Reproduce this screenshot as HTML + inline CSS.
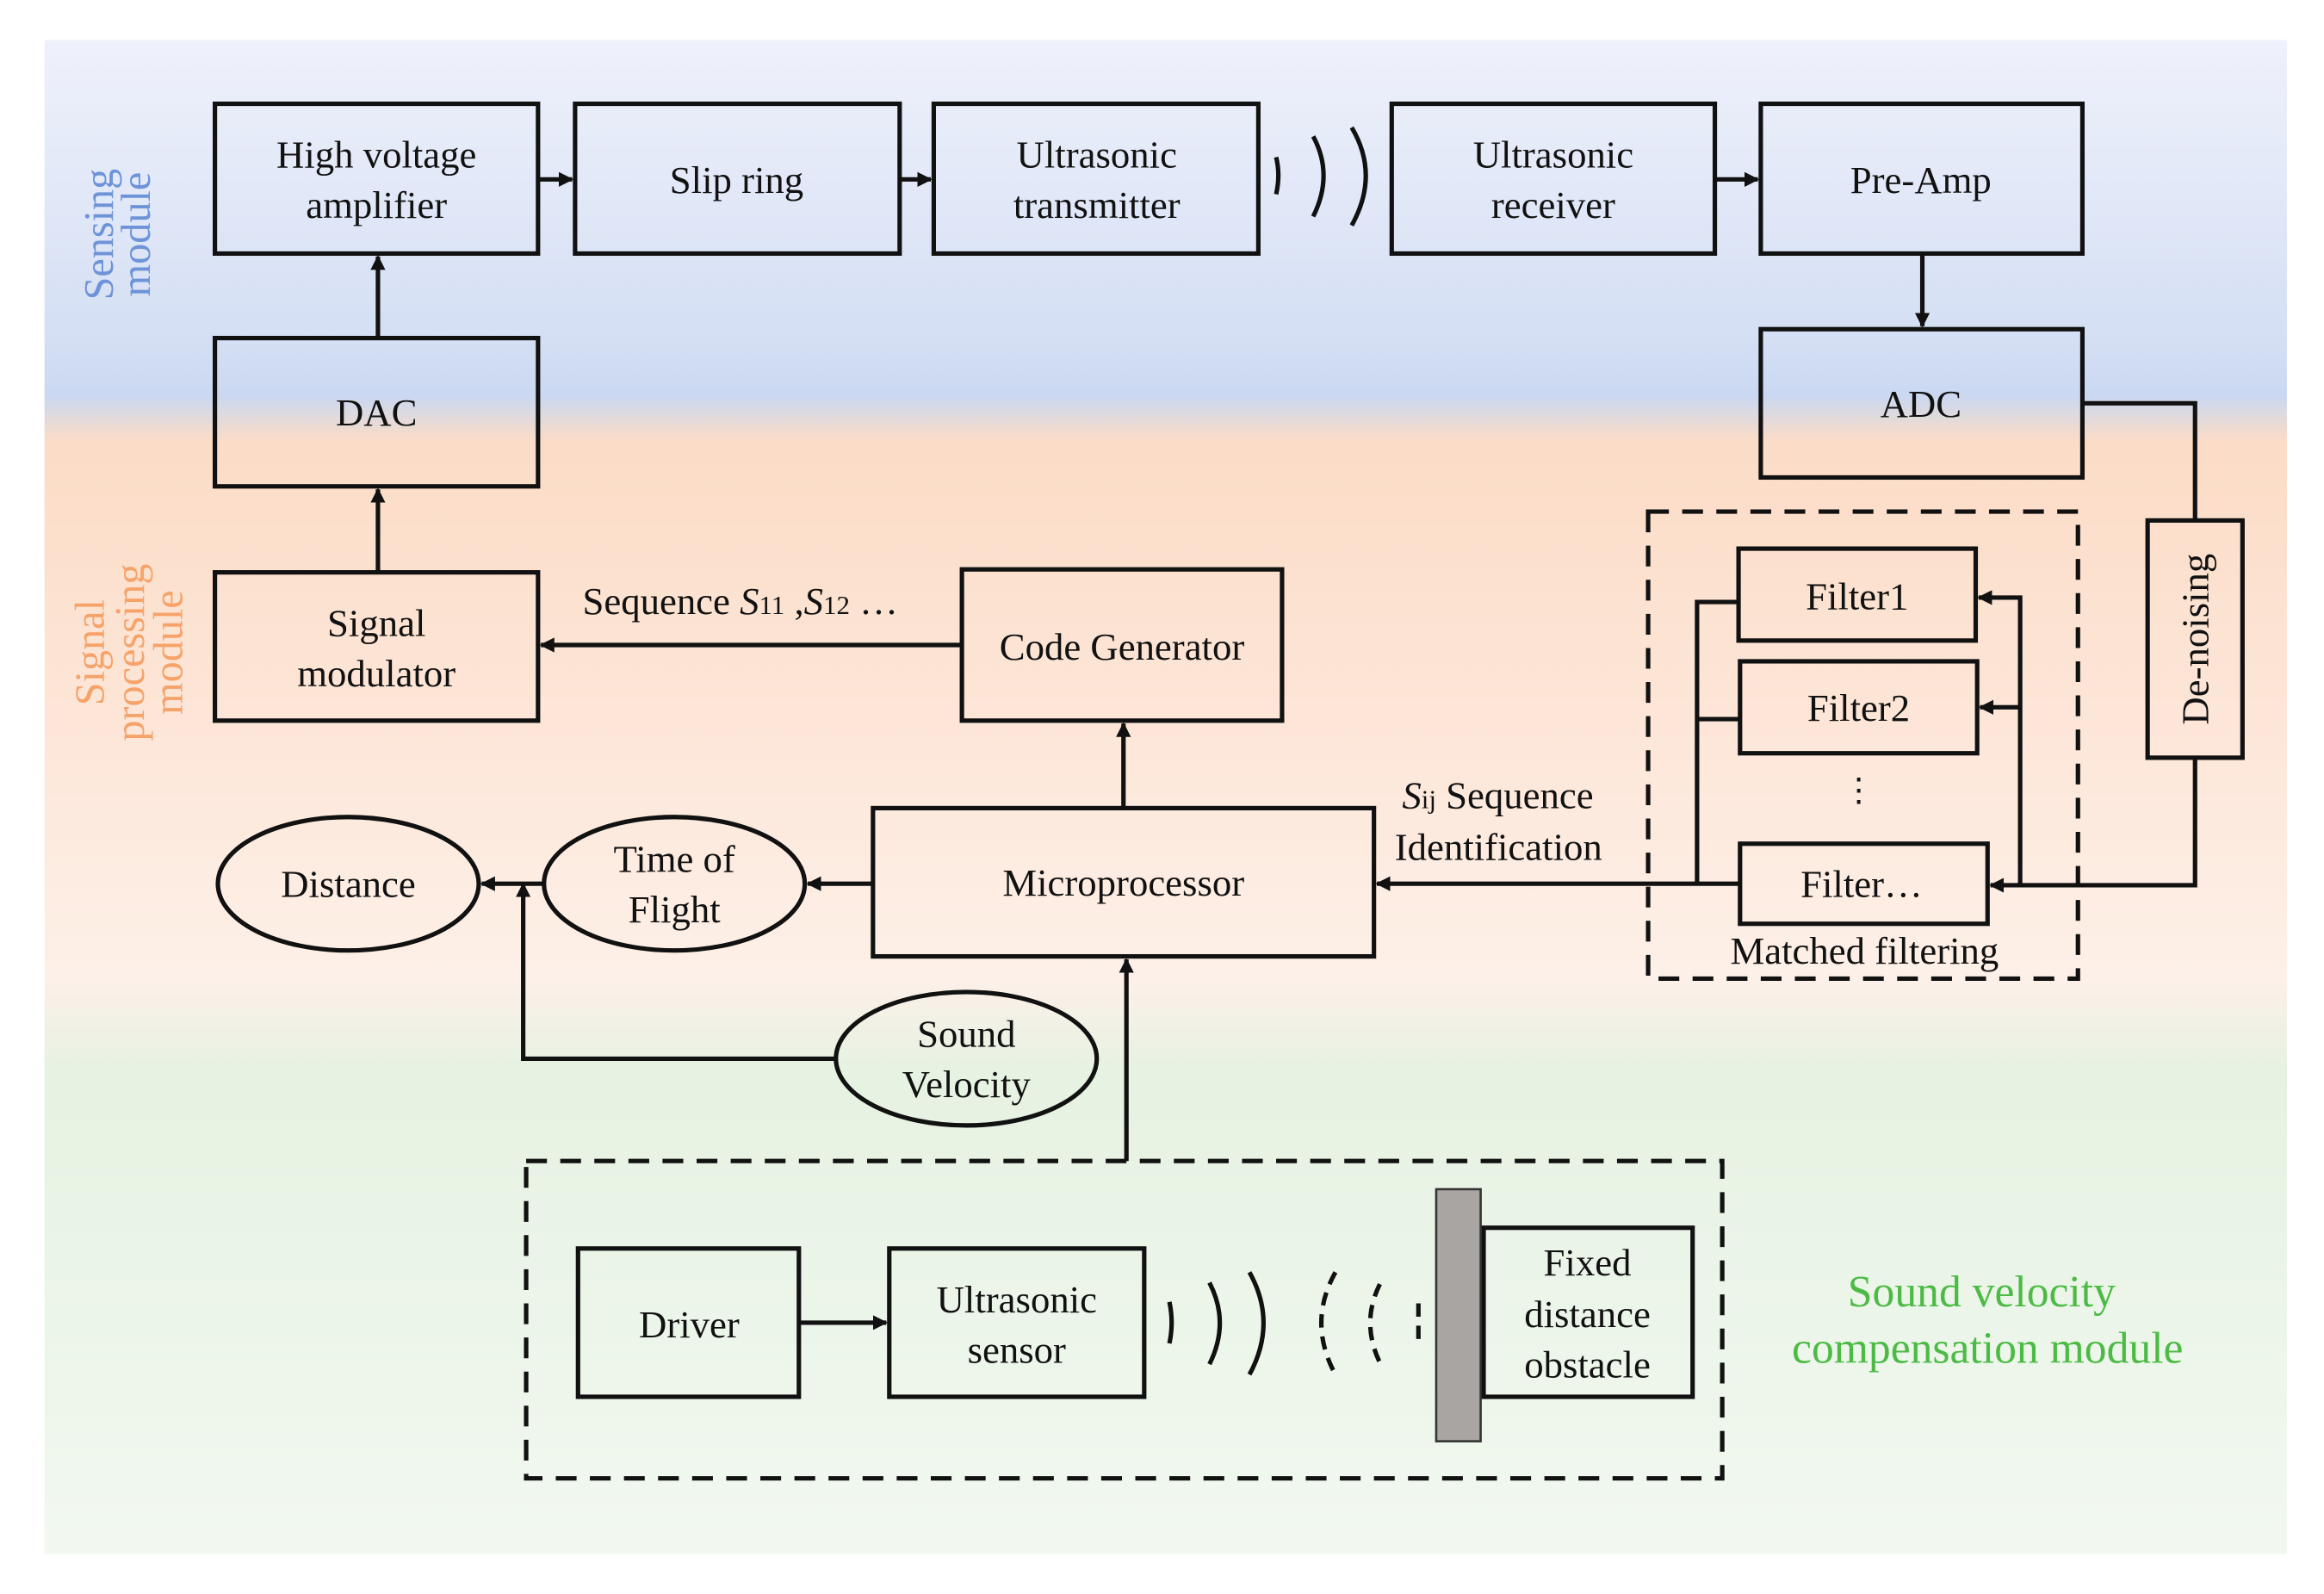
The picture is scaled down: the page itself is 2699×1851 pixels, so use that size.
<!DOCTYPE html>
<html><head><meta charset="utf-8"><style>
html,body{margin:0;padding:0;background:#fff}
svg{display:block}
text{font-family:"Liberation Serif",serif;fill:#111}
</style></head><body>
<svg width="2699" height="1851" viewBox="0 0 1568 1075" preserveAspectRatio="none" xmlns="http://www.w3.org/2000/svg">
<defs>
<linearGradient id="bg" x1="0" y1="0" x2="0" y2="1">
<stop offset="0" stop-color="#eff1fb"/>
<stop offset="0.2" stop-color="#d4dff4"/>
<stop offset="0.235" stop-color="#cad8f1"/>
<stop offset="0.265" stop-color="#fbdcc6"/>
<stop offset="0.45" stop-color="#fde6d8"/>
<stop offset="0.62" stop-color="#fdf0e8"/>
<stop offset="0.68" stop-color="#e6f2e2"/>
<stop offset="1" stop-color="#f2f8f0"/>
</linearGradient>
<marker id="a" markerWidth="10" markerHeight="10" refX="9" refY="5" orient="auto" markerUnits="userSpaceOnUse"><path d="M0,0 L10,5 L0,10 z" fill="#111"/></marker>
</defs>
<rect x="0" y="0" width="1568" height="1075" fill="#fff"/>
<rect x="30" y="27" width="1513" height="1021" fill="url(#bg)"/>
<g fill="none" stroke="#111" stroke-width="3">
<rect x="145" y="70" width="218" height="101"/>
<rect x="388" y="70" width="219" height="101"/>
<rect x="630" y="70" width="219" height="101"/>
<rect x="939" y="70" width="218" height="101"/>
<rect x="1188" y="70" width="217" height="101"/>
<rect x="145" y="228" width="218" height="100"/>
<rect x="1188" y="222" width="217" height="100"/>
<rect x="145" y="386" width="218" height="100"/>
<rect x="649" y="384" width="216" height="102"/>
<rect x="589" y="545" width="338" height="100"/>
<ellipse cx="235" cy="596" rx="88" ry="45"/>
<ellipse cx="455" cy="596" rx="88" ry="45"/>
<ellipse cx="652" cy="714" rx="88" ry="45"/>
<rect x="1173" y="370" width="160" height="62"/>
<rect x="1174" y="446" width="160" height="62"/>
<rect x="1174" y="569" width="167" height="54"/>
<rect x="1449" y="351" width="64" height="160"/>
<rect x="390" y="842" width="149" height="100"/>
<rect x="600" y="842" width="172" height="100"/>
<rect x="1001" y="828" width="141" height="114"/>
<rect x="1112" y="345" width="290" height="315" stroke-dasharray="14,9"/>
<rect x="355" y="783" width="807" height="214" stroke-dasharray="14,9"/>
<!-- connectors -->
<path d="M363,121 H386" marker-end="url(#a)"/>
<path d="M607,121 H628" marker-end="url(#a)"/>
<path d="M1157,121 H1186" marker-end="url(#a)"/>
<path d="M1297,171 V220" marker-end="url(#a)"/>
<path d="M255,228 V173" marker-end="url(#a)"/>
<path d="M255,386 V330" marker-end="url(#a)"/>
<path d="M649,435 H365" marker-end="url(#a)"/>
<path d="M758,545 V488" marker-end="url(#a)"/>
<path d="M589,596 H545" marker-end="url(#a)"/>
<path d="M367,596 H325" marker-end="url(#a)"/>
<path d="M564,714 H353 V596" marker-end="url(#a)"/>
<path d="M760,783 V647" marker-end="url(#a)"/>
<path d="M539,892 H598" marker-end="url(#a)"/>
<path d="M1405,272 H1481 V351"/>
<path d="M1481,511 V597 H1343" marker-end="url(#a)"/>
<path d="M1363,597 V403 H1335" marker-end="url(#a)"/>
<path d="M1363,477 H1336" marker-end="url(#a)"/>
<path d="M1173,406 H1145 V596 M1174,485 H1145"/>
<path d="M1174,596 H929" marker-end="url(#a)"/>
<!-- waves top -->
<path d="M861,106 Q864,118 861,131"/>
<path d="M886,92 Q900,118 886,146"/>
<path d="M912,86 Q931,118 912,152"/>
<!-- waves bottom -->
<path d="M789,878 Q792,892 789,906"/>
<path d="M816,865 Q830,892 816,920"/>
<path d="M843,858 Q862,892 843,927"/>
<path d="M901,858 Q882,892 901,927" stroke-dasharray="9,6"/>
<path d="M931,866 Q918,892 931,919" stroke-dasharray="9,6"/>
<path d="M957,879 V906" stroke-dasharray="9,6"/>
</g>
<rect x="969" y="802" width="30" height="170" fill="#a9a5a3" stroke="#333" stroke-width="1.5"/>
<g font-size="26" text-anchor="middle">
<text x="254" y="113">High voltage</text><text x="254" y="147">amplifier</text>
<text x="497" y="130">Slip ring</text>
<text x="740" y="113">Ultrasonic</text><text x="740" y="147">transmitter</text>
<text x="1048" y="113">Ultrasonic</text><text x="1048" y="147">receiver</text>
<text x="1296" y="130">Pre-Amp</text>
<text x="254" y="287">DAC</text>
<text x="1296" y="281">ADC</text>
<text x="254" y="429">Signal</text><text x="254" y="463">modulator</text>
<text x="757" y="445">Code Generator</text>
<text x="758" y="604">Microprocessor</text>
<text x="235" y="605">Distance</text>
<text x="455" y="588">Time of</text><text x="455" y="622">Flight</text>
<text x="652" y="706">Sound</text><text x="652" y="740">Velocity</text>
<text x="1253" y="411">Filter1</text>
<text x="1254" y="486">Filter2</text>
<text x="1256" y="605">Filter…</text>
<text x="1258" y="650">Matched filtering</text>
<text x="1254" y="540" font-size="22">⋮</text>
<text x="465" y="902">Driver</text>
<text x="686" y="885">Ultrasonic</text><text x="686" y="919">sensor</text>
<text x="1071" y="860">Fixed</text><text x="1071" y="895">distance</text><text x="1071" y="929">obstacle</text>
<text x="1481" y="431" transform="rotate(-90 1481 431)" dy="9">De-noising</text>
</g>
<text x="393" y="414" font-size="26">Sequence <tspan font-style="italic">S</tspan><tspan font-size="18">11</tspan> ,<tspan font-style="italic">S</tspan><tspan font-size="18">12</tspan> …</text>
<text x="946" y="545" font-size="26"><tspan font-style="italic">S</tspan><tspan font-size="18">ij</tspan> Sequence</text>
<text x="941" y="580" font-size="26">Identification</text>
<g font-size="28" text-anchor="middle">
<text transform="translate(76,158) rotate(-90)" style="fill:#6d93d8">Sensing</text>
<text transform="translate(101,158) rotate(-90)" style="fill:#6d93d8">module</text>
<text transform="translate(70,440) rotate(-90)" style="fill:#f6a36a">Signal</text>
<text transform="translate(97,440) rotate(-90)" style="fill:#f6a36a">processing</text>
<text transform="translate(123,440) rotate(-90)" style="fill:#f6a36a">module</text>
</g>
<g font-size="30" text-anchor="middle">
<text x="1337" y="881" style="fill:#4cbb45">Sound velocity</text>
<text x="1341" y="919" style="fill:#4cbb45">compensation module</text>
</g>
</svg>
</body></html>
